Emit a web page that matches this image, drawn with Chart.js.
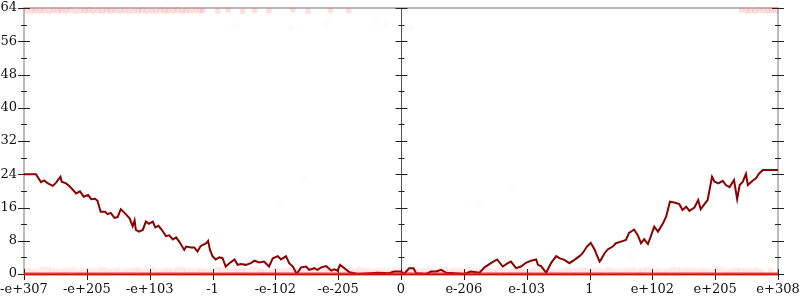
<!DOCTYPE html>
<html lang="en">
<head>
  <meta charset="UTF-8">
  <title>Walk chart</title>
  <script src="https://cdn.jsdelivr.net/npm/chart.js"></script>
  <style>
    html, body { margin: 0; padding: 0; background: #ffffff; }
    .wrap { width: 800px; height: 300px; position: relative; }
  </style>
</head>
<body>
  <div class="wrap"><canvas id="walk"></canvas></div>

  <script>
    // x tick labels, one per integer step from -6 to 6
    const tickLabels = ['-e+307', '-e+205', '-e+103', '-1', '-e-102', '-e-205', '0',
                        'e-206', 'e-103', '1', 'e+102', 'e+205', 'e+308'];

    // the dark red walk
    const walkX = [-6.0, -5.81, -5.73, -5.68, -5.62, -5.54, -5.49, -5.42, -5.40, -5.33, -5.28, -5.23, -5.17, -5.11,
      -5.05, -4.98, -4.93, -4.87, -4.83, -4.78, -4.71, -4.67, -4.62, -4.56, -4.51, -4.46, -4.38, -4.32, -4.27,
      -4.24, -4.22, -4.17, -4.11, -4.06, -4.01, -3.95, -3.91, -3.86, -3.81, -3.74, -3.69, -3.63, -3.58, -3.53,
      -3.45, -3.42, -3.34, -3.29, -3.24, -3.19, -3.10, -3.07, -3.04, -3.00, -2.95, -2.89, -2.84, -2.79, -2.73,
      -2.65, -2.60, -2.55, -2.47, -2.39, -2.33, -2.26, -2.18, -2.10, -2.04, -1.96, -1.91, -1.83, -1.78, -1.72,
      -1.66, -1.59, -1.51, -1.46, -1.38, -1.33, -1.27, -1.19, -1.11, -1.06, -1.01, -0.97, -0.90, -0.82, -0.69,
      -0.48, -0.37, -0.19, -0.11, 0.0, 0.05, 0.13, 0.20, 0.24, 0.40, 0.48, 0.56, 0.64, 0.72, 0.85, 1.01, 1.11,
      1.25, 1.33, 1.43, 1.53, 1.62, 1.70, 1.75, 1.83, 1.91, 1.99, 2.07, 2.15, 2.18, 2.23, 2.31, 2.39, 2.47,
      2.52, 2.60, 2.68, 2.76, 2.84, 2.89, 2.96, 3.02, 3.08, 3.16, 3.18, 3.24, 3.29, 3.37, 3.42, 3.50, 3.58,
      3.63, 3.71, 3.77, 3.82, 3.87, 3.93, 3.97, 4.03, 4.09, 4.17, 4.22, 4.28, 4.35, 4.43, 4.48, 4.54, 4.59,
      4.67, 4.73, 4.77, 4.83, 4.88, 4.95, 4.99, 5.05, 5.12, 5.17, 5.23, 5.30, 5.35, 5.39, 5.44, 5.49, 5.52,
      5.60, 5.65, 5.70, 5.76, 6.0];
    const walkY = [24.0, 24.0, 22.1, 22.5, 21.8, 21.2, 22.0, 23.4, 22.2, 21.8, 21.2, 20.4, 19.4, 19.9,
      18.6, 19.0, 18.0, 18.1, 17.6, 15.0, 15.0, 14.4, 14.7, 13.5, 13.7, 15.6, 14.4, 13.4, 11.5,
      12.9, 10.6, 10.2, 10.6, 12.6, 12.1, 12.6, 11.2, 11.6, 10.7, 9.1, 9.3, 8.3, 8.8, 7.8,
      5.8, 6.6, 6.4, 6.4, 5.4, 6.7, 7.4, 8.0, 5.8, 4.3, 3.5, 4.0, 3.8, 1.8, 2.6,
      3.5, 2.2, 2.4, 2.2, 2.6, 3.2, 2.8, 3.0, 1.8, 3.8, 4.3, 3.5, 4.3, 2.6, 1.8,
      0.0, 1.6, 1.8, 1.0, 1.4, 1.0, 1.6, 1.9, 0.8, 1.1, 0.8, 2.2, 1.4, 0.4, 0.0,
      0.2, 0.3, 0.2, 0.6, 0.6, 0.0, 1.4, 1.4, 0.2, 0.0, 0.6, 0.6, 1.0, 0.3, 0.2, 0.0, 0.6,
      0.3, 1.6, 2.6, 3.5, 1.8, 2.6, 3.0, 1.4, 1.8, 2.7, 3.2, 3.5, 2.2, 1.9, 0.3, 2.7, 4.3,
      3.8, 3.4, 2.6, 3.4, 4.3, 5.0, 6.6, 7.5, 5.9, 3.0, 3.4, 5.0, 5.9, 6.6, 7.4, 7.8, 8.2,
      9.9, 10.7, 9.3, 7.4, 8.4, 7.2, 8.8, 11.4, 10.2, 12.2, 13.8, 17.4, 17.2, 16.8, 15.4, 16.2, 15.2,
      16.0, 17.8, 15.6, 16.8, 17.8, 23.4, 22.2, 21.8, 22.4, 21.4, 20.9, 22.6, 18.0, 21.4, 22.2, 24.1, 21.4,
      22.5, 23.0, 24.2, 25.0, 25.0];

    // faint red samples along the floor
    const floorX = [-5.95, -5.8, -5.62, -5.47, -5.3, -5.12, -4.98, -4.8, -4.66, -4.5, -4.33, -4.18, -4.02, -3.87,
      -3.7, -3.56, -3.41, -3.24, -3.1, -2.93, -2.78, -2.61, -2.47, -2.3, -2.16, -1.99, -1.84, -1.68, -1.52,
      -1.37, -1.2, -1.06, -0.9, -0.73, -0.58, -0.42, -0.27, -0.1, 0.06, 0.22, 0.37, 0.53, 0.7, 0.84, 1.0,
      1.17, 1.32, 1.48, 1.63, 1.8, 1.95, 2.11, 2.27, 2.42, 2.59, 2.74, 2.9, 3.05, 3.22, 3.37, 3.53, 3.69,
      3.84, 4.0, 4.16, 4.32, 4.47, 4.63, 4.79, 4.94, 5.1, 5.26, 5.41, 5.57, 5.73, 5.88,
      -5.88, -5.71, -5.55, -5.38, -5.21, -5.05, -4.89, -4.73, -4.58, -4.41, -4.25, -4.1, -3.95, -3.78,
      -3.63, -3.48, -3.33, -3.17, -3.01, -2.86, -2.69, -2.54, -2.38, -2.23, -2.07, -1.92, -1.76, -1.6,
      -1.45, -1.29, -1.13, -0.98, -0.81, -0.66, -0.5, -0.35, -0.18, -0.02, 0.14, 0.3, 0.45, 0.62, 0.77,
      0.92, 1.08, 1.24, 1.4, 1.55, 1.72, 1.87, 2.03, 2.19, 2.35, 2.5, 2.66, 2.82, 2.97, 3.14, 3.3, 3.45,
      3.61, 3.77, 3.92, 4.08, 4.24, 4.4, 4.55, 4.71, 4.86, 5.02, 5.18, 5.34, 5.49, 5.65, 5.8, 5.96];
    const floorY = [0.9, 0.6, 1.0, 0.7, 0.9, 0.5, 0.8, 1.0, 0.6, 0.9, 0.7, 1.0, 0.8, 0.6,
      0.9, 1.0, 0.7, 0.8, 0.6, 1.0, 0.9, 0.7, 0.8, 1.0, 0.6, 0.9, 0.8, 0.7, 1.0,
      0.6, 0.9, 0.8, 1.0, 0.7, 0.9, 0.6, 0.8, 1.0, 0.7, 0.9, 0.8, 0.6, 1.0, 0.9, 0.7,
      0.8, 1.0, 0.6, 0.9, 0.7, 0.8, 1.0, 0.9, 0.6, 0.8, 0.7, 1.0, 0.9, 0.6, 0.8, 0.7, 1.0,
      0.9, 0.8, 0.6, 1.0, 0.7, 0.9, 0.8, 0.6, 1.0, 0.7, 0.9, 0.8, 0.6, 0.9,
      0.7, 1.1, 0.8, 0.6, 1.0, 0.9, 0.7, 1.1, 0.8, 0.6, 0.9, 0.7, 1.1, 0.8,
      0.6, 1.0, 0.9, 0.7, 0.8, 1.1, 0.6, 0.9, 1.0, 0.7, 0.8, 0.6, 1.1, 0.9,
      0.7, 0.8, 1.0, 0.6, 0.9, 1.1, 0.7, 0.8, 0.6, 1.0, 0.9, 0.7, 1.1, 0.8, 0.6,
      0.9, 1.0, 0.7, 0.8, 1.1, 0.6, 0.9, 0.7, 1.0, 0.8, 0.6, 1.1, 0.9, 0.7, 0.8,
      1.0, 0.6, 0.9, 0.7, 1.1, 0.8, 0.6, 1.0, 0.9, 0.7, 0.8, 1.1, 0.6, 0.9, 0.7, 1.0];

    // faint red samples along the ceiling
    const ceilX = [-5.95, -5.88, -5.82, -5.75, -5.68, -5.6, -5.53, -5.46, -5.4, -5.33, -5.26, -5.18, -5.1, -5.03,
      -4.97, -4.9, -4.82, -4.75, -4.68, -4.62, -4.55, -4.47, -4.4, -4.33, -4.25, -4.18, -4.12, -4.05, -3.97,
      -3.9, -3.83, -3.76, -3.7, -3.62, -3.55, -3.48, -3.42, -3.35, -3.27, -3.2, -3.15, -2.92, -2.75, -2.52,
      -2.33, -2.1, -1.72, -1.48, -1.12, -0.83, 5.42, 5.5, 5.56, 5.63, 5.7, 5.77, 5.84, 5.9, 5.96];
    const ceilY = [63.4, 63.3, 63.5, 63.3, 63.4, 63.2, 63.5, 63.3, 63.4, 63.3, 63.5, 63.2, 63.4, 63.3,
      63.5, 63.3, 63.4, 63.2, 63.5, 63.3, 63.4, 63.3, 63.5, 63.2, 63.4, 63.3, 63.5, 63.3, 63.4,
      63.2, 63.5, 63.3, 63.4, 63.3, 63.5, 63.2, 63.4, 63.3, 63.5, 63.3, 63.4, 63.3, 63.5, 63.2,
      63.4, 63.3, 63.5, 63.2, 63.4, 63.3, 63.5, 63.3, 63.4, 63.3, 63.5, 63.4, 63.3, 63.5, 63.4];

    // stray samples away from the edges
    const strayX = [-2.61, -1.94, -1.75, -1.53, -1.18, -0.40, -0.24, 0.16, 1.23, 1.77, 3.66];
    const strayY = [59.9, 16.8, 59.2, 23.1, 60.4, 60.4, 59.9, 59.2, 17.1, 20.7, 4.3];

    const floorLineX = [-6, 6];
    const floorLineY = [0, 0];

    const pts = (xs, ys) => xs.map((x, i) => ({ x: x, y: ys[i] }));

    // axes, borders and cross ticks
    const frame = {
      id: 'frame',
      beforeDatasetsDraw(chart) {
        const { ctx, chartArea: a, scales: { x, y } } = chart;
        ctx.save();
        ctx.lineCap = 'butt';
        // gray frame: left, top, right
        ctx.strokeStyle = '#bbbbbb';
        ctx.lineWidth = 2;
        ctx.beginPath();
        ctx.moveTo(a.left, a.bottom);
        ctx.lineTo(a.left, a.top);
        ctx.lineTo(a.right, a.top);
        ctx.lineTo(a.right, a.bottom);
        ctx.stroke();
        // centre axis
        const cx = Math.round(x.getPixelForValue(0)) + 0.5;
        ctx.strokeStyle = '#555555';
        ctx.lineWidth = 1;
        ctx.beginPath();
        ctx.moveTo(cx, a.top);
        ctx.lineTo(cx, a.bottom);
        ctx.stroke();
        // bottom axis
        ctx.strokeStyle = '#000000';
        ctx.beginPath();
        ctx.moveTo(a.left, a.bottom + 0.5);
        ctx.lineTo(a.right, a.bottom + 0.5);
        ctx.stroke();
        // y ticks on three vertical axes
        ctx.strokeStyle = '#222222';
        const cols = [a.left, cx, a.right];
        for (let v = 0; v <= 64; v += 4) {
          const py = Math.round(y.getPixelForValue(v)) + 0.5;
          const half = v % 8 === 0 ? 6 : 3;
          cols.forEach(c => {
            ctx.beginPath();
            ctx.moveTo(c - half, py);
            ctx.lineTo(c + half, py);
            ctx.stroke();
          });
        }
        // x ticks
        for (let v = -6; v <= 6; v++) {
          const px = Math.round(x.getPixelForValue(v)) + 0.5;
          ctx.beginPath();
          ctx.moveTo(px, a.bottom - 5);
          ctx.lineTo(px, a.bottom + 6);
          ctx.stroke();
        }
        ctx.restore();
      }
    };

    new Chart(document.getElementById('walk'), {
      type: 'scatter',
      data: {
        datasets: [
          {
            data: pts(strayX, strayY),
            showLine: false,
            pointRadius: 3,
            pointBorderWidth: 0,
            pointBackgroundColor: 'rgba(255, 0, 0, 0.025)',
            clip: false
          },
          {
            data: pts(ceilX, ceilY),
            showLine: false,
            pointRadius: 3,
            pointBorderWidth: 0,
            pointBackgroundColor: 'rgba(255, 0, 0, 0.12)',
            clip: false
          },
          {
            data: pts(floorX, floorY),
            showLine: false,
            pointRadius: 3,
            pointBorderWidth: 0,
            pointBackgroundColor: 'rgba(255, 0, 0, 0.08)',
            clip: false
          },
          {
            data: pts(floorLineX, floorLineY),
            showLine: true,
            pointRadius: 0,
            borderColor: 'rgba(235, 20, 20, 0.85)',
            borderWidth: 3,
            clip: false
          },
          {
            data: pts(walkX, walkY),
            showLine: true,
            pointRadius: 0,
            borderColor: '#8b0000',
            borderWidth: 2,
            tension: 0
          }
        ]
      },
      options: {
        responsive: true,
        maintainAspectRatio: false,
        animation: false,
        events: [],
        layout: { padding: { top: 8, right: 22, left: 0, bottom: 0 } },
        plugins: { legend: { display: false }, tooltip: { enabled: false } },
        scales: {
          x: {
            type: 'linear',
            min: -6,
            max: 6,
            afterFit: s => { s.height = 26; s.paddingLeft = 0; s.paddingRight = 0; },
            grid: { display: false, drawTicks: false },
            border: { display: false },
            ticks: {
              stepSize: 1,
              autoSkip: false,
              maxRotation: 0,
              padding: 8,
              color: '#111111',
              font: { family: 'DejaVu Serif', size: 13 },
              callback: v => tickLabels[v + 6]
            }
          },
          y: {
            min: 0,
            max: 64,
            afterFit: s => { s.width = 24; s.paddingTop = 0; s.paddingBottom = 0; },
            grid: { display: false, drawTicks: false },
            border: { display: false },
            ticks: {
              stepSize: 8,
              padding: 7,
              color: '#111111',
              font: { family: 'DejaVu Serif', size: 13 }
            }
          }
        }
      },
      plugins: [frame]
    });
  </script>
</body>
</html>
